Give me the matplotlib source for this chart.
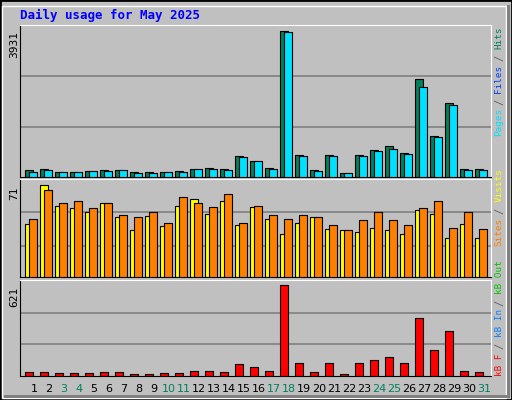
import matplotlib
matplotlib.use("Agg")
import matplotlib.pyplot as plt
import numpy as np

days = list(range(1, 32))
weekend = [3, 4, 10, 11, 17, 18, 24, 25, 31]
hits = [182, 208, 130, 130, 156, 182, 182, 130, 130, 130, 156, 208, 234, 208, 547, 417, 234, 3853,
        573, 182, 573, 104, 573, 703, 807, 625, 2577, 1093, 1952, 208, 208]
files = [130, 182, 130, 130, 156, 156, 182, 104, 104, 130, 130, 208, 208, 182, 521, 417, 208, 3827,
         547, 156, 547, 104, 547, 677, 729, 599, 2369, 1067, 1900, 182, 182]
visits = [41, 71, 55, 53, 50, 57, 46, 36, 47, 39, 55, 60, 49, 59, 40, 54, 45, 33, 42, 46, 37, 36, 35, 38, 36, 33, 52, 49, 30, 41, 30]
sites = [45, 67, 57, 59, 53, 57, 48, 46, 50, 42, 62, 57, 54, 64, 42, 55, 48, 45, 48, 46, 40, 36, 44, 50, 44, 40, 53, 59, 38, 50, 37]
kbytes = [29, 29, 23, 23, 23, 29, 29, 16, 16, 23, 23, 36, 36, 29, 83, 63, 36, 621, 91, 29, 91, 16, 91, 111, 132, 91, 397, 179, 308, 36, 29]
ymax_hits, ymax_visits, ymax_kb = 3931, 71, 621

W, H = 512, 400
fig = plt.figure(figsize=(W/100, H/100), dpi=100, facecolor="#C0C0C0")
mono = "DejaVu Sans Mono"

def ax_px(x0, y0, x1, y1):
    return fig.add_axes([x0/W, 1-y1/H, (x1-x0)/W, (y1-y0)/H])

fig.add_artist(plt.Rectangle((0, 0), 1, 1, transform=fig.transFigure, fill=False, ec="black", lw=2))
fig.add_artist(plt.Rectangle((2/W, 2/H), 1-8/W, 1-8/H, transform=fig.transFigure, fill=False, ec="white", lw=1))
fig.add_artist(plt.Rectangle((4/W, 2/H), 1-6/W, 3/H, transform=fig.transFigure, fc="#808080", ec="none"))
fig.add_artist(plt.Rectangle((1-5/W, 2/H), 3/W, 1-7/H, transform=fig.transFigure, fc="#808080", ec="none"))

fig.text(20/W, 1-15/H, "Daily usage for May 2025", color="#0000FF", fontsize=9, fontweight="bold",
         family=mono, va="center", ha="left")

d = np.array(days)
bw = 8/15
def setup(ax, ymax, grid_fracs):
    ax.set_facecolor("#C0C0C0")
    ax.set_xlim(1-11/15, 1+460/15)
    ax.set_ylim(0, ymax)
    for g in grid_fracs:
        ax.axhline(ymax*g, color="#808080", lw=1.2, zorder=0)
    ax.set_xticks([]); ax.set_yticks([])
    for s in ax.spines.values():
        s.set_color("black")
    ax.spines["right"].set_color("white")
    ax.spines["top"].set_color("white")

ax1 = ax_px(20, 25, 491, 177)
setup(ax1, ymax_hits*151/148, [0.33, 0.665])
ax1.bar(d-0.4, hits, bw, align="edge", color="#00805C", ec="black", lw=0.8, zorder=2)
ax1.bar(d-0.13, files, bw, align="edge", color="#00E0FF", ec="black", lw=0.8, zorder=3)
fig.text(14/W, 1-45/H, str(ymax_hits), rotation=90, fontsize=8, family=mono, ha="center", va="center")

ax2 = ax_px(20, 179, 491, 277)
setup(ax2, ymax_visits*98/92, [0.32, 0.66])
ax2.bar(d-0.4, visits, bw, align="edge", color="#FFFF00", ec="black", lw=0.8, zorder=2)
ax2.bar(d-0.13, sites, bw, align="edge", color="#FF8000", ec="black", lw=0.8, zorder=3)
fig.text(14/W, 1-193/H, str(ymax_visits), rotation=90, fontsize=8, family=mono, ha="center", va="center")

ax3 = ax_px(20, 280, 491, 376)
setup(ax3, ymax_kb*96/91, [0.33, 0.66])
ax3.bar(d-0.4, kbytes, bw, align="edge", color="#FF0000", ec="black", lw=0.8, zorder=2)
fig.text(14/W, 1-297/H, str(ymax_kb), rotation=90, fontsize=8, family=mono, ha="center", va="center")

for day in days:
    xpx = 20 + 11 + 15*(day-1) + 3
    fig.text(xpx/W, 1-389/H, str(day), fontsize=8, family="DejaVu Sans", ha="center", va="center",
             color="#00805C" if day in weekend else "black")

CW = 5.45
def vlabel(parts, ybottom):
    y = ybottom
    for i, (txt, col) in enumerate(parts):
        if i > 0:
            fig.text(499/W, 1-(y - 1.5*CW)/H, "/", rotation=90, color="#606060", fontsize=9*CW/6.5,
                     family=mono, ha="center", va="center")
            y -= 3*CW
        fig.text(499/W, 1-(y - 0.5)/H, txt, rotation=90, rotation_mode="anchor", color=col,
                 fontsize=8*CW/6.5, family=mono, ha="left", va="center")
        y -= len(txt)*CW

vlabel([("Pages", "#00E0FF"), ("Files", "#0040FF"), ("Hits", "#00805C")], 137)
vlabel([("Sites", "#FF8000"), ("Visits", "#FFFF00")], 246)
vlabel([("kB F", "#FF0000"), ("kB In", "#0080FF"), ("kB Out", "#00C000")], 376)

fig.savefig("out.png", dpi=100, facecolor=fig.get_facecolor())
